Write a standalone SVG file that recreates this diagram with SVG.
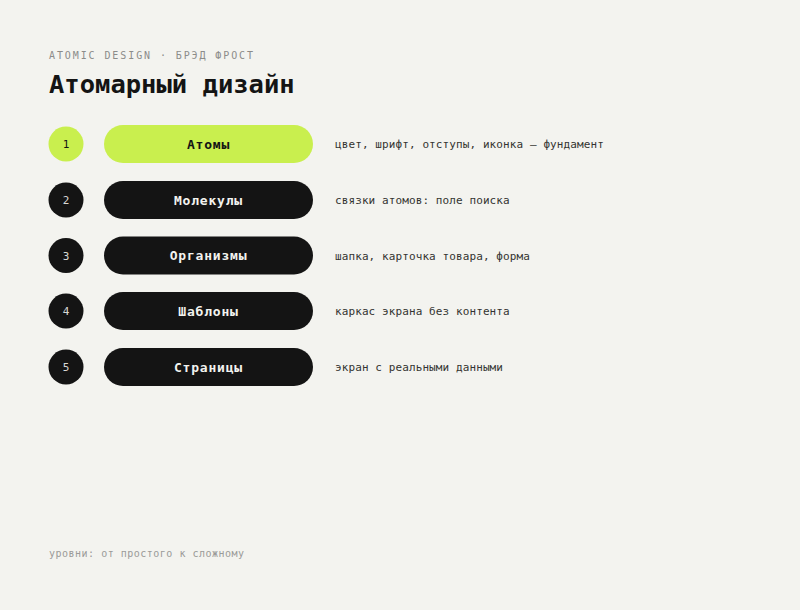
<svg xmlns="http://www.w3.org/2000/svg" width="800" height="610" viewBox="0 0 800 610">
<style>
.mono{font-family:"DejaVu Sans Mono","Liberation Mono",monospace}
.kicker{font-size:10px;letter-spacing:1.9px;fill:#8c8c8a}
.title{font-size:25.5px;font-weight:bold;fill:#141414}
.desc{font-size:11px;letter-spacing:0.1px;fill:#333331}
.foot{font-size:10px;letter-spacing:0.5px;fill:#9a9a98}
.pill-dark{fill:#141414}
.pill-lime{fill:#c9ef4e}
.lbl{font-size:13px;font-weight:bold;letter-spacing:0.8px;text-anchor:middle}
.lbl-dark{fill:#141414}
.lbl-light{fill:#f3f3ef}
.num{font-size:11px;text-anchor:middle}
.num-dark{fill:#141414}
.num-light{fill:#d8d8d4}
</style>
<rect width="800" height="610" fill="#f3f3ef"/>
<text class="mono kicker" x="49" y="59">ATOMIC DESIGN · БРЭД ФРОСТ</text>
<text class="mono title" x="49" y="93">Атомарный дизайн</text>
<g id="connectors"/>
<g id="node-1">
<circle class="pill-lime" cx="66" cy="144" r="17.5"/>
<text class="mono num num-dark" x="66" y="148">1</text>
<rect class="pill-lime" x="104" y="125" width="209" height="38" rx="19"/>
<text class="mono lbl lbl-dark" x="208.5" y="148.5">Атомы</text>
<text class="mono desc" x="335" y="148">цвет, шрифт, отступы, иконка — фундамент</text>
</g>
<g id="node-2">
<circle class="pill-dark" cx="66" cy="200" r="17.5"/>
<text class="mono num num-light" x="66" y="204">2</text>
<rect class="pill-dark" x="104" y="181" width="209" height="38" rx="19"/>
<text class="mono lbl lbl-light" x="208.5" y="204.5">Молекулы</text>
<text class="mono desc" x="335" y="204">связки атомов: поле поиска</text>
</g>
<g id="node-3">
<circle class="pill-dark" cx="66" cy="255.5" r="17.5"/>
<text class="mono num num-light" x="66" y="259.5">3</text>
<rect class="pill-dark" x="104" y="236.5" width="209" height="38" rx="19"/>
<text class="mono lbl lbl-light" x="208.5" y="260">Организмы</text>
<text class="mono desc" x="335" y="259.5">шапка, карточка товара, форма</text>
</g>
<g id="node-4">
<circle class="pill-dark" cx="66" cy="311" r="17.5"/>
<text class="mono num num-light" x="66" y="315">4</text>
<rect class="pill-dark" x="104" y="292" width="209" height="38" rx="19"/>
<text class="mono lbl lbl-light" x="208.5" y="315.5">Шаблоны</text>
<text class="mono desc" x="335" y="315">каркас экрана без контента</text>
</g>
<g id="node-5">
<circle class="pill-dark" cx="66" cy="367" r="17.5"/>
<text class="mono num num-light" x="66" y="371">5</text>
<rect class="pill-dark" x="104" y="348" width="209" height="38" rx="19"/>
<text class="mono lbl lbl-light" x="208.5" y="371.5">Страницы</text>
<text class="mono desc" x="335" y="371">экран с реальными данными</text>
</g>
<text class="mono foot" x="49" y="557">уровни: от простого к сложному</text>
</svg>
